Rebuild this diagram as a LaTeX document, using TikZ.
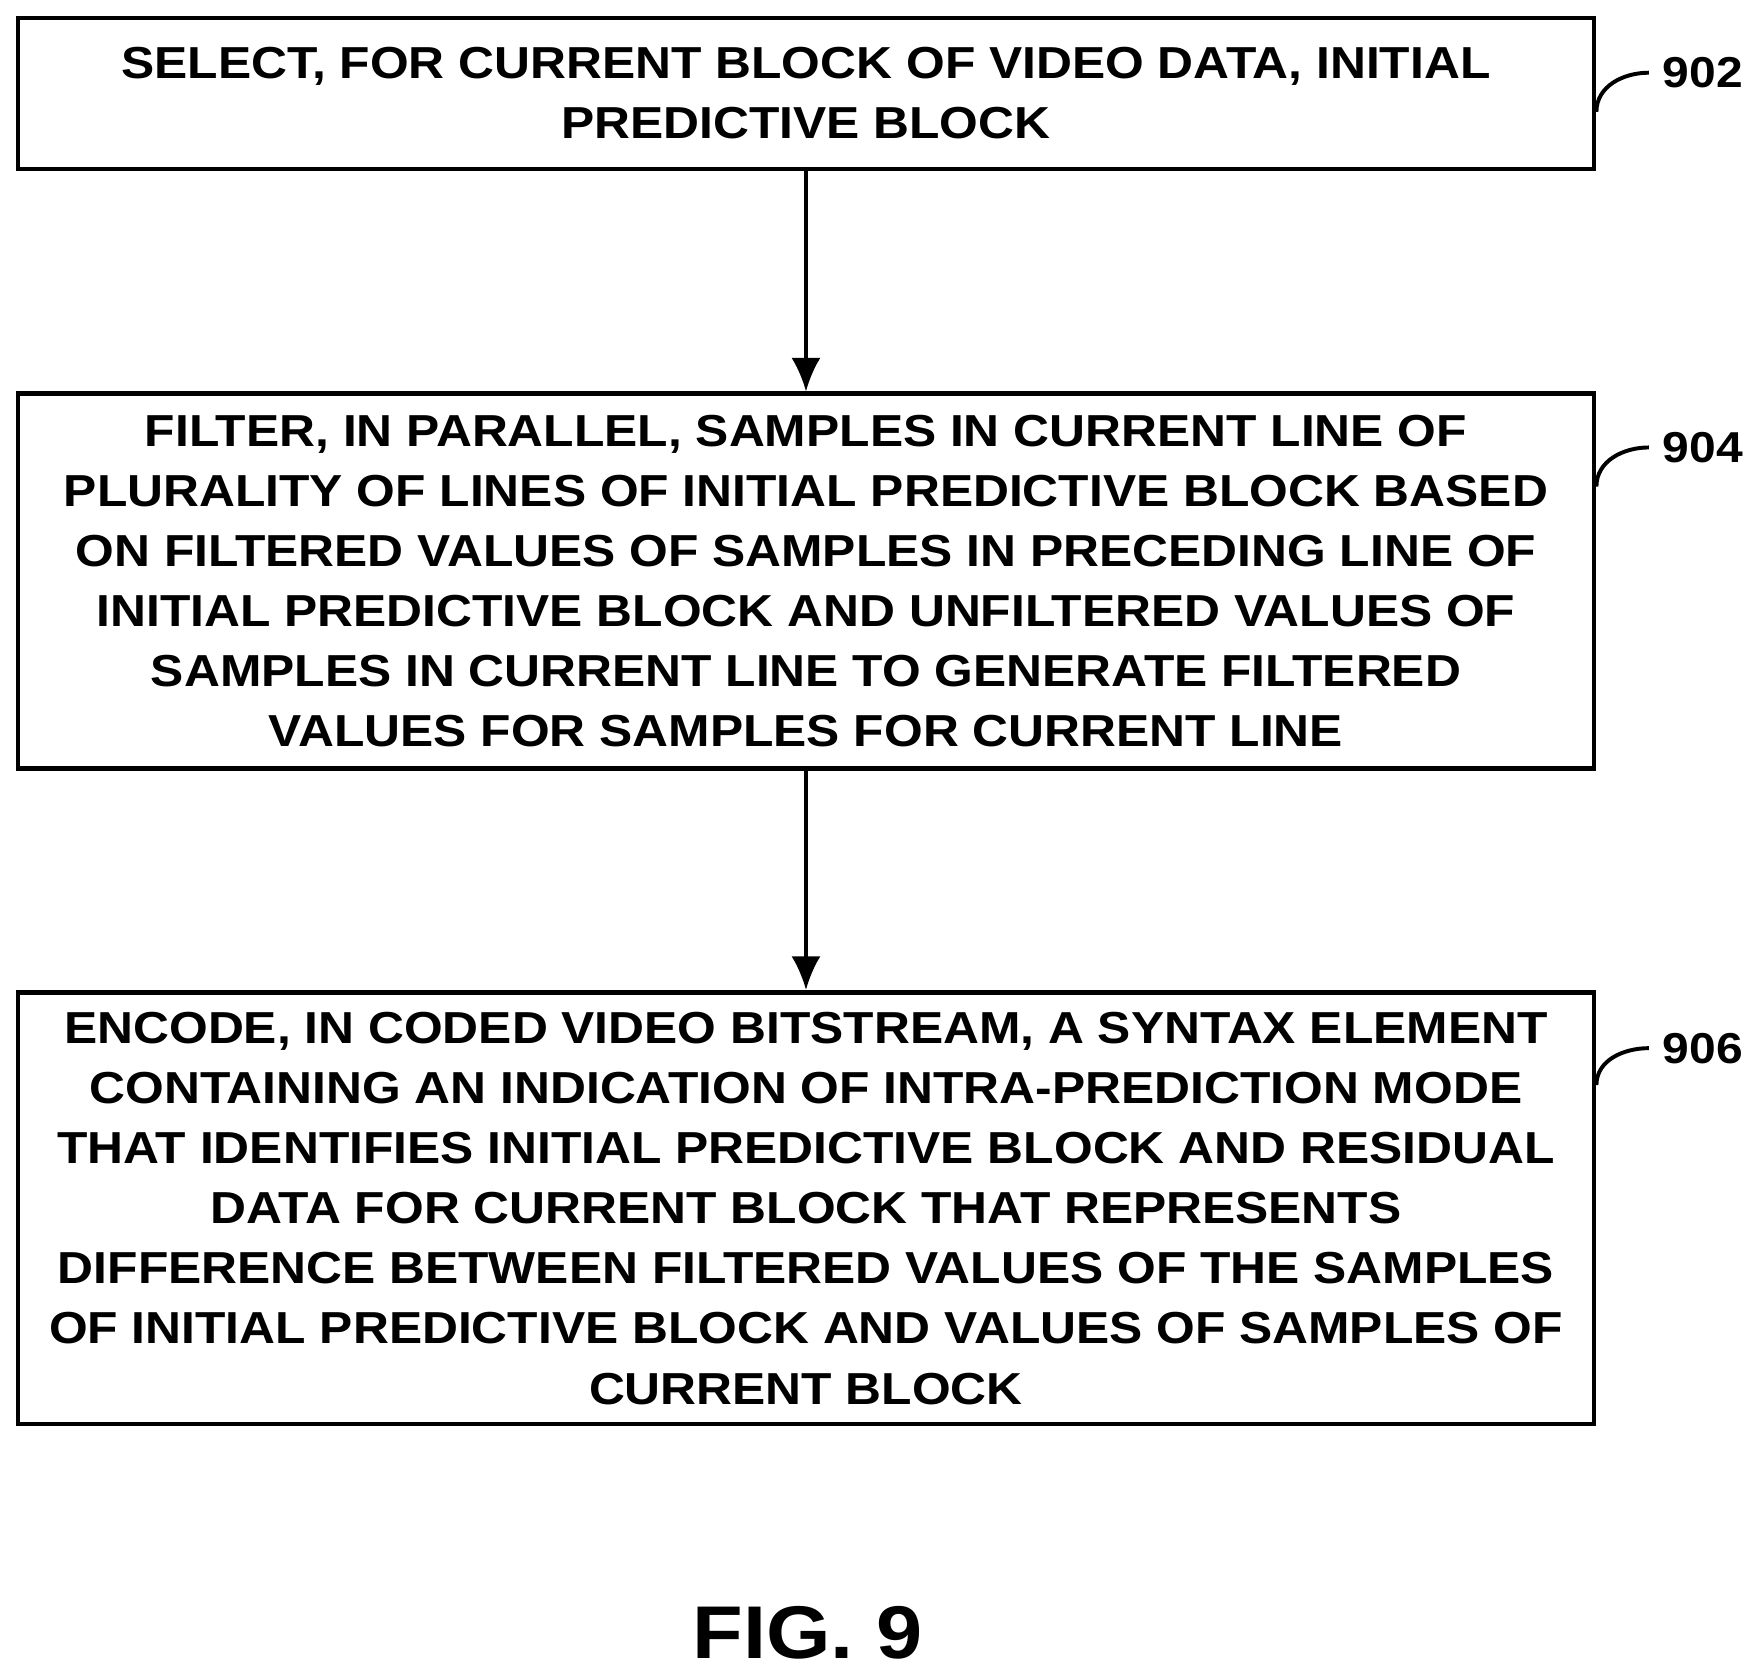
\documentclass[tikz,border=0pt]{standalone}
\usepackage{fontspec}
\setmainfont[FakeStretch=1.11]{Liberation Sans}
\usetikzlibrary{arrows.meta}
\begin{document}
\begin{tikzpicture}[
    stepbox/.style={draw, line width=1.2pt, minimum width=14.09cm, align=center,
      font=\fontsize{11.4}{15.3}\selectfont\bfseries, inner sep=0pt},
    reflabel/.style={font=\fontsize{11}{14}\selectfont\bfseries, anchor=west},
    leader/.style={line width=1pt},
    flow/.style={-{Latex[length=3mm,width=2.6mm]}, line width=0.8pt}]
  \useasboundingbox (0,0) rectangle (15.68,-14.96);
  % Boxes
  \node[stepbox, minimum height=1.35cm] (b1) at (7.205,-0.835)
    {SELECT, FOR CURRENT BLOCK OF VIDEO DATA, INITIAL\\PREDICTIVE BLOCK};
  \node[stepbox, minimum height=3.35cm] (b2) at (7.205,-5.195)
    {FILTER, IN PARALLEL, SAMPLES IN CURRENT LINE OF\\
     PLURALITY OF LINES OF INITIAL PREDICTIVE BLOCK BASED\\
     ON FILTERED VALUES OF SAMPLES IN PRECEDING LINE OF\\
     INITIAL PREDICTIVE BLOCK AND UNFILTERED VALUES OF\\
     SAMPLES IN CURRENT LINE TO GENERATE FILTERED\\
     VALUES FOR SAMPLES FOR CURRENT LINE};
  \node[stepbox, minimum height=3.86cm] (b3) at (7.205,-10.8)
    {ENCODE, IN CODED VIDEO BITSTREAM, A SYNTAX ELEMENT\\
     CONTAINING AN INDICATION OF INTRA-PREDICTION MODE\\
     THAT IDENTIFIES INITIAL PREDICTIVE BLOCK AND RESIDUAL\\
     DATA FOR CURRENT BLOCK THAT REPRESENTS\\
     DIFFERENCE BETWEEN FILTERED VALUES OF THE SAMPLES\\
     OF INITIAL PREDICTIVE BLOCK AND VALUES OF SAMPLES OF\\
     CURRENT BLOCK};
  % Arrows
  \draw[flow] (b1) -- (b2);
  \draw[flow] (b2) -- (b3);
  % Reference numerals
  \node[reflabel] (l902) at (14.74,-0.65) {902};
  \node[reflabel] (l904) at (14.74,-4.0) {904};
  \node[reflabel] (l906) at (14.74,-9.37) {906};
  \coordinate (e902) at ([yshift=-1.65mm]b1.east);
  \coordinate (e904) at ([yshift=8.45mm]b2.east);
  \coordinate (e906) at ([yshift=11mm]b3.east);
  \draw[leader] (l902.west) to[out=180,in=90] (e902);
  \draw[leader] (l904.west) to[out=180,in=90] (e904);
  \draw[leader] (l906.west) to[out=180,in=90] (e906);
  % Caption
  \node[font=\fontsize{19}{22}\selectfont\bfseries] (fig) at (7.22,-14.6) {FIG. 9};
\end{tikzpicture}
\end{document}
